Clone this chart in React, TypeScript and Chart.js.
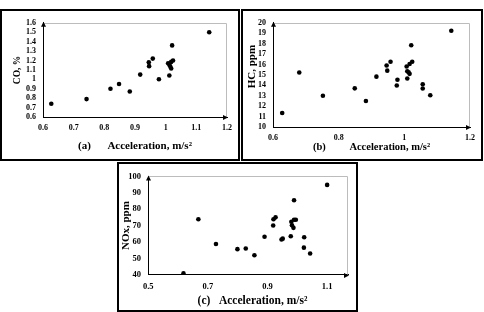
import React, { useEffect, useRef } from "react";
import { Chart, registerables } from "chart.js";

Chart.register(...registerables);

// (a) CO vs acceleration
const accelCO = [0.627, 0.742, 0.82, 0.848, 0.883, 0.917, 0.945, 0.946, 0.958, 0.978, 1.012, 1.008, 1.012, 1.015, 1.018, 1.021, 1.018, 1.024, 1.142];
const coPct = [0.74, 0.79, 0.9, 0.95, 0.87, 1.05, 1.18, 1.14, 1.22, 1.0, 1.04, 1.17, 1.155, 1.135, 1.115, 1.36, 1.185, 1.2, 1.5];

// (b) HC vs acceleration
const accelHC = [0.628, 0.68, 0.752, 0.849, 0.883, 0.915, 0.946, 0.948, 0.958, 0.979, 0.977, 1.007, 1.016, 1.024, 1.021, 1.009, 1.009, 1.013, 1.016, 1.056, 1.056, 1.079, 1.143];
const hcPpm = [11.34, 15.23, 13.0, 13.71, 12.49, 14.83, 15.9, 15.41, 16.26, 14.53, 13.98, 15.81, 16.05, 16.26, 17.84, 14.65, 15.35, 15.25, 15.1, 14.1, 13.7, 13.04, 19.24];

// (c) NOx vs acceleration
const accelNOx = [0.618, 0.668, 0.727, 0.799, 0.827, 0.856, 0.89, 0.919, 0.92, 0.927, 0.947, 0.951, 0.978, 0.98, 0.989, 0.995, 0.982, 0.987, 0.989, 1.023, 1.022, 1.043, 1.1];
const noxPpm = [40.8, 73.8, 58.7, 55.6, 56.0, 51.9, 63.2, 70.0, 73.8, 75.0, 61.5, 62.0, 63.5, 72.3, 73.5, 73.5, 70.2, 68.6, 85.4, 62.9, 56.5, 52.9, 94.8];

const xTicksA = [0.6, 0.7, 0.8, 0.9, 1, 1.1, 1.2];
const yTicksA = [0.6, 0.7, 0.8, 0.9, 1, 1.1, 1.2, 1.3, 1.4, 1.5, 1.6];
const xTicksB = [0.6, 0.8, 1, 1.2];
const yTicksB = [10, 11, 12, 13, 14, 15, 16, 17, 18, 19, 20];
const xTicksC = [0.5, 0.7, 0.9, 1.1];
const yTicksC = [40, 50, 60, 70, 80, 90, 100];
const xMaxC = 1.17;

const FONT = '"Liberation Serif", "Times New Roman", serif';
const fmt = (v: number) => String(parseFloat(Number(v).toFixed(2)));

const axisDecor = {
  id: "axisDecor",
  beforeDatasetsDraw(chart: any) {
    const { ctx, chartArea } = chart;
    const { left, right, top, bottom } = chartArea;
    ctx.save();
    ctx.strokeStyle = "#bcbcbc";
    ctx.lineWidth = 1;
    ctx.beginPath();
    ctx.moveTo(left, Math.round(top) + 0.5);
    ctx.lineTo(Math.round(right) - 0.5, Math.round(top) + 0.5);
    ctx.lineTo(Math.round(right) - 0.5, bottom);
    ctx.stroke();
    ctx.restore();
  },
  afterDraw(chart: any) {
    const { ctx, chartArea } = chart;
    const { left, right, top, bottom } = chartArea;
    const lx = Math.round(left) + 0.5;
    const by = Math.round(bottom) + 0.5;
    ctx.save();
    ctx.fillStyle = "#000";
    ctx.beginPath();
    ctx.moveTo(right + 1, by);
    ctx.lineTo(right - 4, by - 2.5);
    ctx.lineTo(right - 4, by + 2.5);
    ctx.closePath();
    ctx.fill();
    ctx.beginPath();
    ctx.moveTo(lx, top - 1);
    ctx.lineTo(lx - 2.5, top + 4);
    ctx.lineTo(lx + 2.5, top + 4);
    ctx.closePath();
    ctx.fill();
    ctx.restore();
  },
};

type Lay = {
  top: number; right: number; yw: number; xh: number;
  xtp: number; ytp: number; tick: number;
  xts: number; xtb: number; yts: number; ytt: number;
};

function Panel(props: {
  box: [number, number, number, number];
  xs: number[]; ys: number[];
  xTicks: number[]; yTicks: number[];
  xMin: number; xMax: number;
  xTitle: string; yTitle: string;
  lay: Lay;
}) {
  const ref = useRef<HTMLCanvasElement>(null);
  const { box, xs, ys, xTicks, yTicks, xMin, xMax, xTitle, yTitle, lay } = props;
  useEffect(() => {
    const tickFont = { family: FONT, size: lay.tick, weight: "bold" as const };
    const chart = new Chart(ref.current!, {
      type: "scatter",
      data: {
        datasets: [
          {
            data: xs.map((x, i) => ({ x, y: ys[i] })),
            backgroundColor: "#000",
            borderColor: "#000",
            borderWidth: 0,
            pointRadius: 2.3,
          },
        ],
      },
      options: {
        animation: false,
        responsive: false,
        events: [],
        plugins: { legend: { display: false }, tooltip: { enabled: false } },
        layout: { padding: { left: 0, top: lay.top, right: lay.right, bottom: 0 } },
        scales: {
          x: {
            type: "linear",
            min: xMin,
            max: xMax,
            afterFit: (s: any) => { s.height = lay.xh; },
            afterBuildTicks: (s: any) => { s.ticks = xTicks.map((v) => ({ value: v })); },
            grid: { display: false, drawTicks: false },
            border: { display: true, color: "#000", width: 1 },
            ticks: { padding: lay.xtp, color: "#000", font: tickFont, maxRotation: 0, autoSkip: false, callback: (v: any) => fmt(v) },
            title: { display: true, text: xTitle, color: "#000", font: { family: FONT, size: lay.xts, weight: "bold" }, padding: { top: 0, bottom: lay.xtb } },
          },
          y: {
            type: "linear",
            min: yTicks[0],
            max: yTicks[yTicks.length - 1],
            afterFit: (s: any) => { s.width = lay.yw; },
            afterBuildTicks: (s: any) => { s.ticks = yTicks.map((v) => ({ value: v })); },
            grid: { display: false, drawTicks: false },
            border: { display: true, color: "#000", width: 1 },
            ticks: { padding: lay.ytp, color: "#000", font: tickFont, autoSkip: false, callback: (v: any) => fmt(v) },
            title: { display: true, text: yTitle, color: "#000", font: { family: FONT, size: lay.yts, weight: "bold" }, padding: { top: lay.ytt, bottom: 0 } },
          },
        },
      },
      plugins: [axisDecor],
    } as any);
    return () => chart.destroy();
  }, []);
  return (
    <div
      style={{
        position: "absolute",
        left: box[0],
        top: box[1],
        width: box[2],
        height: box[3],
        border: "2px solid #000",
        boxSizing: "border-box",
        background: "#fff",
      }}
    >
      <canvas ref={ref} width={box[2] - 4} height={box[3] - 4} style={{ display: "block" }} />
    </div>
  );
}

export default function App() {
  return (
    <div style={{ position: "absolute", left: 0, top: 0, width: 484, height: 312, background: "#fff", overflow: "hidden" }}>
      <Panel
        box={[0, 9, 240, 152]}
        xs={accelCO}
        ys={coPct}
        xTicks={xTicksA}
        yTicks={yTicksA}
        xMin={0.6}
        xMax={1.2}
        xTitle={"(a)      Acceleration, m/s\u00B2"}
        yTitle={"CO, %"}
        lay={{ top: 8, right: 11, yw: 41, xh: 42, xtp: 6, ytp: 7, tick: 8, xts: 11, xtb: 6.7, yts: 9.5, ytt: 10.3 }}
      />
      <Panel
        box={[241, 9, 242, 152]}
        xs={accelHC}
        ys={hcPpm}
        xTicks={xTicksB}
        yTicks={yTicksB}
        xMin={0.6}
        xMax={1.2}
        xTitle={"(b)         Acceleration, m/s\u00B2"}
        yTitle={"      HC, ppm"}
        lay={{ top: 7, right: 11, yw: 30, xh: 32, xtp: 6, ytp: 7, tick: 8, xts: 10.5, xtb: 5.7, yts: 11, ytt: 2.4 }}
      />
      <Panel
        box={[117, 162, 241, 150]}
        xs={accelNOx}
        ys={noxPpm}
        xTicks={xTicksC}
        yTicks={yTicksC}
        xMin={0.5}
        xMax={xMaxC}
        xTitle={"   (c)   Acceleration, m/s\u00B2"}
        yTitle={"NOx, ppm"}
        lay={{ top: 6.7, right: 8, yw: 29.3, xh: 35.3, xtp: 6.5, ytp: 7.3, tick: 8.5, xts: 11.5, xtb: 2.4, yts: 11, ytt: 0.7 }}
      />
    </div>
  );
}
